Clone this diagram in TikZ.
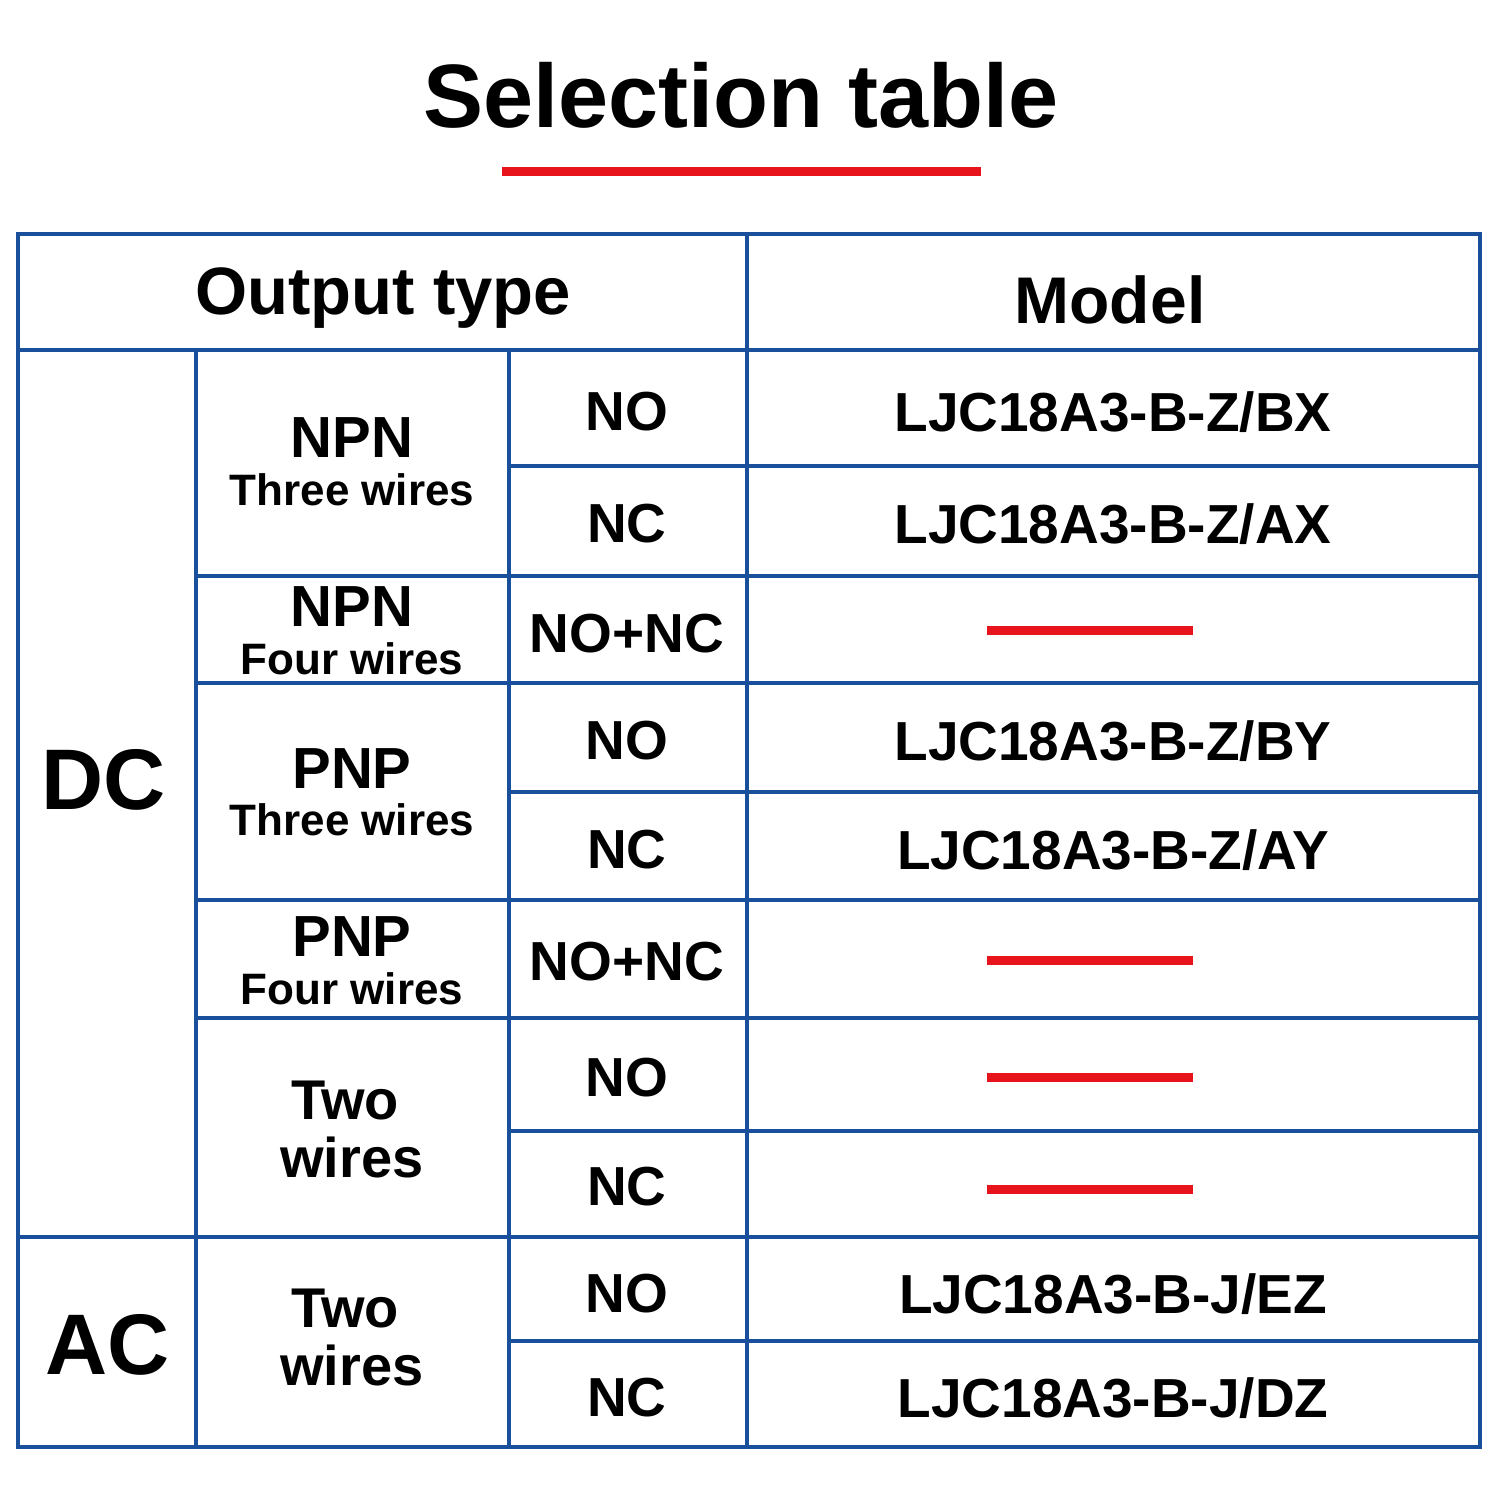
\documentclass[tikz,border=0pt]{standalone}
\usepackage{fontspec}
\setmainfont{Liberation Sans}
\definecolor{tb}{HTML}{1A4F9C}
\definecolor{rd}{HTML}{E8141B}
\begin{document}
\begin{tikzpicture}[x=1pt,y=-1pt,
  gl/.style={tb,line width=4pt},
  rl/.style={rd,line width=9pt},
  t/.style={font=\bfseries\fontsize{#1}{#1}\selectfont,inner sep=0,anchor=center}]
\useasboundingbox (0,0) rectangle (1500,1500);
\node[t=90] (title) at (741,95) {Selection table};
\draw[rl] (502,171) -- (981,171);
% grid
\draw[gl] (18,234) rectangle (1480,1447);
\draw[gl] (18,350) -- (1480,350);
\draw[gl] (747,234) -- (747,1447);
\draw[gl] (196,350) -- (196,1447);
\draw[gl] (509,350) -- (509,1447);
\draw[gl] (18,1237) -- (1480,1237);
\foreach \y in {576,683,900,1018} \draw[gl] (196,\y) -- (1480,\y);
\foreach \y in {466,792,1131,1341} \draw[gl] (509,\y) -- (1480,\y);
% headers
\node[t=67] (ot) at (383,298) {Output type};
\node[t=66] (mo) at (1110,300) {Model};
\node[t=86] (dc) at (104,780) {DC};
\node[t=86] (ac) at (108,1345) {AC};
% groups
\node[t=58] (g1a) at (352,438) {NPN};
\node[t=44] (g1b) at (352,490) {Three wires};
\node[t=58] (g2a) at (352,607) {NPN};
\node[t=44] (g2b) at (352,659) {Four wires};
\node[t=58] (g3a) at (352,769) {PNP};
\node[t=44] (g3b) at (352,820) {Three wires};
\node[t=58] (g4a) at (352,937) {PNP};
\node[t=44] (g4b) at (352,989) {Four wires};
\node[t=56] (g5a) at (345,1100) {Two};
\node[t=56] (g5b) at (352,1157) {wires};
\node[t=56] (g6a) at (345,1308) {Two};
\node[t=56] (g6b) at (352,1365) {wires};
% types
\foreach \n/\y/\s in {a/412/NO,b/524/NC,c/634/NO+NC,d/741/NO,e/850/NC,f/962/NO+NC,g/1078/NO,h/1187/NC,i/1294/NO,j/1398/NC}
  \node[t=55] (ty\n) at (627,\y) {\s};
% models
\foreach \n/\y/\s in {a/412/{LJC18A3-B-Z/BX},b/524/{LJC18A3-B-Z/AX},d/741/{LJC18A3-B-Z/BY},e/850/{LJC18A3-B-Z/AY},i/1294/{LJC18A3-B-J/EZ},j/1398/{LJC18A3-B-J/DZ}}
  \node[t=55] (m\n) at (1113,\y) {\s};
\foreach \y in {630,960,1077,1189} \draw[rl] (987,\y) -- (1193,\y);
\end{tikzpicture}
\end{document}
